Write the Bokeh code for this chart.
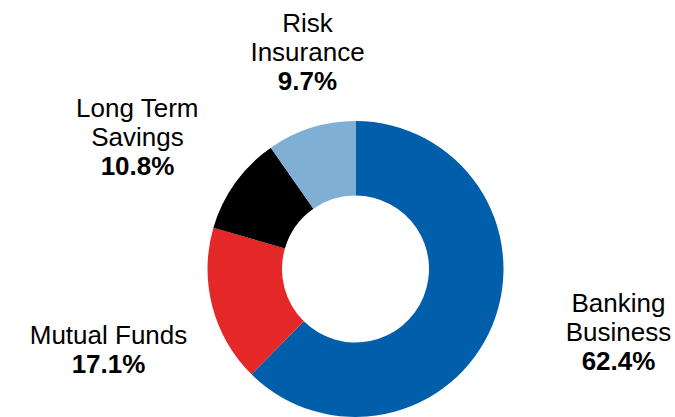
import math
from bokeh.plotting import figure
from bokeh.models import ColumnDataSource, Range1d
from bokeh.core.properties import value
from bokeh.embed import file_html
from bokeh.resources import INLINE

# Data
categories = ["Banking\nBusiness", "Mutual Funds", "Long Term\nSavings", "Risk\nInsurance"]
shares = [62.4, 17.1, 10.8, 9.7]
colors = ["#005EAB", "#E42828", "#000000", "#7FAFD5"]

# Layout (pixel-like data units)
W, H = 675, 417
cx, cy = 355, 148.5
r_out, r_in = 148, 73.5
label_x = [618, 108, 137, 307]
label_pct_y = [57, 54, 252, 337]
line_gap = 29
FONT = value("Liberation Sans")
FS = "26px"

total = sum(shares)
starts, ends = [], []
cum = 0.0
for s in shares:
    starts.append(math.pi / 2 - 2 * math.pi * cum / total)
    cum += s
    ends.append(math.pi / 2 - 2 * math.pi * cum / total)

wedges = ColumnDataSource(dict(start=starts, end=ends, color=colors))

p = figure(width=W, height=H, output_backend="svg", toolbar_location=None,
           x_range=Range1d(0, W), y_range=Range1d(0, H), min_border=0)
p.axis.visible = False
p.grid.visible = False
p.outline_line_color = None
p.background_fill_color = "white"

p.annular_wedge(x=cx, y=cy, inner_radius=r_in, outer_radius=r_out,
                start_angle="start", end_angle="end", direction="clock",
                fill_color="color", line_color=None, source=wedges)

name_x, name_y, name_t = [], [], []
pct_t = []
for cat, s, lx, ly in zip(categories, shares, label_x, label_pct_y):
    lines = cat.split("\n")
    n = len(lines)
    for i, ln in enumerate(lines):
        name_x.append(lx)
        name_y.append(ly + (n - i) * line_gap)
        name_t.append(ln)
    pct_t.append(f"{s:.1f}%")

p.text(x=name_x, y=name_y, text=name_t, text_font=FONT, text_font_size=FS,
       text_align="center", text_baseline="alphabetic", text_color="#000000")
p.text(x=label_x, y=label_pct_y, text=pct_t, text_font=FONT, text_font_size=FS,
       text_font_style="bold", text_align="center", text_baseline="alphabetic",
       text_color="#000000")

open("out.html", "w").write(file_html(p, INLINE))
